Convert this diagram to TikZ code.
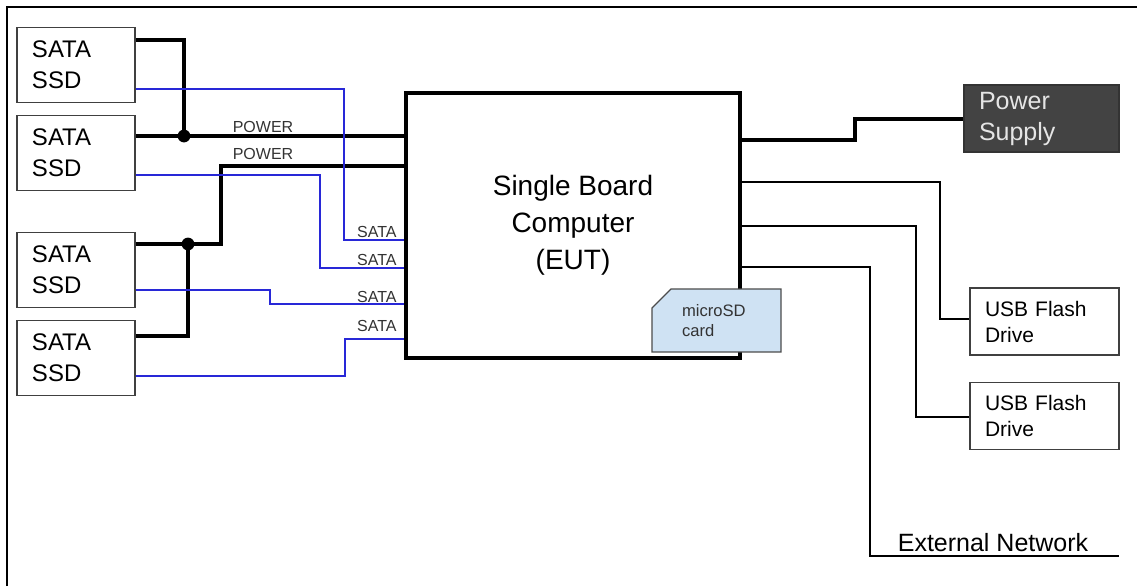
\documentclass[tikz,border=0pt]{standalone}
\usepackage{fontspec}
\setmainfont{Liberation Sans}
\usetikzlibrary{shapes.misc}
\definecolor{satablue}{RGB}{40,40,215}
\definecolor{cardblue}{RGB}{207,226,243}
\definecolor{psugray}{RGB}{67,67,67}

\begin{document}
\begin{tikzpicture}[x=0.5pt,y=-0.5pt,
  ssdbox/.style={draw=black!75, line width=0.6pt, minimum height=37.5pt, text width=44pt,
    inner xsep=7.5pt, align=left, font=\fontsize{12}{15.5}\selectfont},
  usbbox/.style={draw=black!75, line width=0.6pt, minimum height=33.5pt, text width=59.5pt,
    inner xsep=7.5pt, align=left, font=\fontsize{10.5}{13}\selectfont},
  pwrline/.style={line width=1.6pt},
  sataline/.style={satablue, line width=0.9pt},
  usbline/.style={line width=0.9pt},
  tag/.style={font=\fontsize{8}{9}\selectfont, inner sep=0pt, text=black!80}]
  \useasboundingbox (0,0) rectangle (1137,586);
  \draw[line width=1pt] (7,586) -- (7,7) -- (1137,7);

  \node[ssdbox] (ssd1) at (76,65) {SATA\\SSD};
  \node[ssdbox] (ssd2) at (76,153) {SATA\\SSD};
  \node[ssdbox] (ssd3) at (76,270) {SATA\\SSD};
  \node[ssdbox] (ssd4) at (76,358) {SATA\\SSD};

  \node[draw, line width=2pt, minimum width=167pt, minimum height=132.5pt, align=center,
    font=\fontsize{14}{18.5}\selectfont] (sbc) at (573,225.5) {Single Board\\Computer\\(EUT)};

  \node[draw=black!80, line width=0.6pt, fill=psugray, text=white!90!black, minimum height=33.5pt,
    text width=62.5pt, inner xsep=7.5pt, align=left, font=\fontsize{12.5}{15.5}\selectfont]
    (psu) at (1041.5,118.5) {Power\\Supply};
  \node[usbbox] (usb1) at (1044.5,321.5) {USB Flash\\Drive};
  \node[usbbox] (usb2) at (1044.5,416) {USB Flash\\Drive};

  \coordinate (j1) at (184,136);
  \coordinate (j2) at (188,244);

  \draw[pwrline] (ssd1.east |- 0,40) -- (184,40) -- (j1);
  \draw[pwrline] (ssd2.east |- 0,136) -- (sbc.west |- 0,136);
  \draw[pwrline] (ssd3.east |- 0,244) -- (221,244) -- (221,166) -- (sbc.west |- 0,166);
  \draw[pwrline] (ssd4.east |- 0,336) -- (188,336) -- (j2);
  \fill (j1) circle (3.2pt);
  \fill (j2) circle (3.2pt);

  \draw[sataline] (ssd1.east |- 0,89) -- (344,89) -- (344,240) -- (sbc.west |- 0,240);
  \draw[sataline] (ssd2.east |- 0,175) -- (320,175) -- (320,268) -- (sbc.west |- 0,268);
  \draw[sataline] (ssd3.east |- 0,290) -- (270,290) -- (270,304) -- (sbc.west |- 0,304);
  \draw[sataline] (ssd4.east |- 0,376) -- (345,376) -- (345,339) -- (sbc.west |- 0,339);

  \node[tag, anchor=base] (pw1) at (263,132) {POWER};
  \node[tag, anchor=base] (pw2) at (263,159) {POWER};
  \node[tag, anchor=base east] (sa1) at (397,237) {SATA};
  \node[tag, anchor=base east] (sa2) at (397,265) {SATA};
  \node[tag, anchor=base east] (sa3) at (397,302) {SATA};
  \node[tag, anchor=base east] (sa4) at (397,331) {SATA};

  \node[chamfered rectangle, chamfered rectangle corners=north west, chamfered rectangle xsep=5pt,
    chamfered rectangle ysep=4.5pt, draw=black!70, line width=0.6pt, fill=cardblue,
    minimum width=54.5pt, minimum height=27.5pt, text width=34.5pt, inner xsep=10pt, align=left,
    font=\fontsize{8.3}{9.7}\selectfont, text=black!80] (card) at (716.5,320.5) {microSD\\card};

  \draw[pwrline] (sbc.east |- 0,140) -- (855,140) -- (855,119) -- (psu.west |- 0,119);
  \draw[usbline] (sbc.east |- 0,182) -- (940,182) -- (940,319) -- (usb1.west |- 0,319);
  \draw[usbline] (sbc.east |- 0,226) -- (916,226) -- (916,417) -- (usb2.west |- 0,417);
  \coordinate (netend) at (1119,556);
  \draw[usbline] (sbc.east |- 0,267) -- (870,267) -- (870,556) -- (netend);
  \node[anchor=base, font=\fontsize{12.5}{15}\selectfont, inner sep=0pt] (net) at (993,551) {External Network};
\end{tikzpicture}
\end{document}
